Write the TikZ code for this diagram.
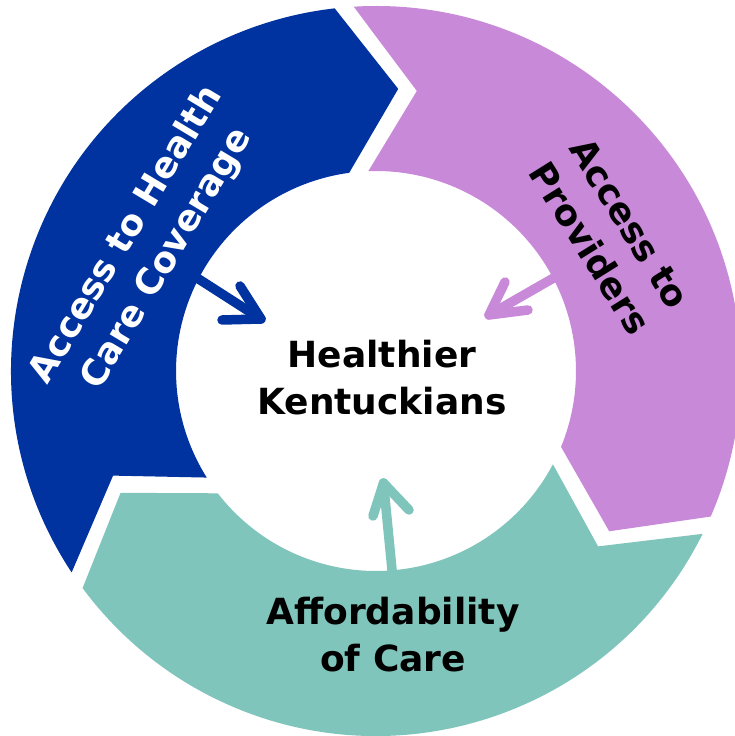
\documentclass[tikz,border=0pt]{standalone}
\usepackage{fontspec}
\setmainfont{DejaVu Sans}
\usetikzlibrary{calc}
\definecolor{segblue}{RGB}{0,51,160}
\definecolor{segpurple}{RGB}{201,137,217}
\definecolor{segteal}{RGB}{127,197,187}
\begin{document}
\begin{tikzpicture}[x=1pt,y=1pt,
  lbl/.style={font=\bfseries\fontsize{36}{47}\selectfont, align=center, inner sep=0pt},
  arr/.style={line width=9.5pt, line cap=round, line join=round}]
\useasboundingbox (0,0) rectangle (735,736);
\fill[white] (0,0) rectangle (735,736);
\def\Rout{365}\def\Rin{200}\def\Rmid{283}
\begin{scope}[shift={(376,365)}]
  % blue segment
  \fill[segblue] (213.5:\Rout) arc[start angle=213.5,end angle=96.5,radius=\Rout]
     -- (85.5:\Rmid) -- (97.7:\Rin) arc[start angle=97.7,end angle=212.2,radius=\Rin]
     -- (201.7:\Rmid) -- cycle;
  % purple segment
  \fill[segpurple] (93.5:\Rout) arc[start angle=93.5,end angle=-23.5,radius=\Rout]
     -- (-34.5:\Rmid) -- (-22.3:\Rin) arc[start angle=-22.3,end angle=92.2,radius=\Rin]
     -- (81.7:\Rmid) -- cycle;
  % teal segment
  \fill[segteal] (-26.5:\Rout) arc[start angle=-26.5,end angle=-143.5,radius=\Rout]
     -- (-154.5:\Rmid) -- (-142.3:\Rin) arc[start angle=-142.3,end angle=-27.8,radius=\Rin]
     -- (-38.3:\Rmid) -- cycle;
\end{scope}

% arrow coordinates
\coordinate (bS) at (169,476);
\coordinate (bT) at (261,417);
\coordinate (bL) at (240,450);
\coordinate (bR) at (222,416);
\coordinate (pS) at (585,476);
\coordinate (pT) at (489,421);
\coordinate (pL) at (505,454);
\coordinate (pR) at (528,426);
\coordinate (tS) at (394,146);
\coordinate (tT) at (383.5,253);
\coordinate (tL) at (373,220);
\coordinate (tR) at (409,226);

\draw[arr, segblue] (bS) -- (bT);
\draw[arr, segblue] (bL) -- (bT) -- (bR);
\draw[arr, segpurple] (pS) -- (pT);
\draw[arr, segpurple] (pL) -- (pT) -- (pR);
\draw[arr, segteal] (tS) -- (tT);
\draw[arr, segteal] (tL) -- (tT) -- (tR);

% labels
\node[lbl] (hub) at (382,358) {Healthier\\Kentuckians};
\node[lbl, text=white, rotate=59] (coverage) at (147,489) {Access to Health\\Care Coverage};
\node[lbl, rotate=-58] (providers) at (610,500) {Access to\\Providers};
\node[lbl] (afford) at (393,101) {Affordability\\of Care};
\end{tikzpicture}
\end{document}
